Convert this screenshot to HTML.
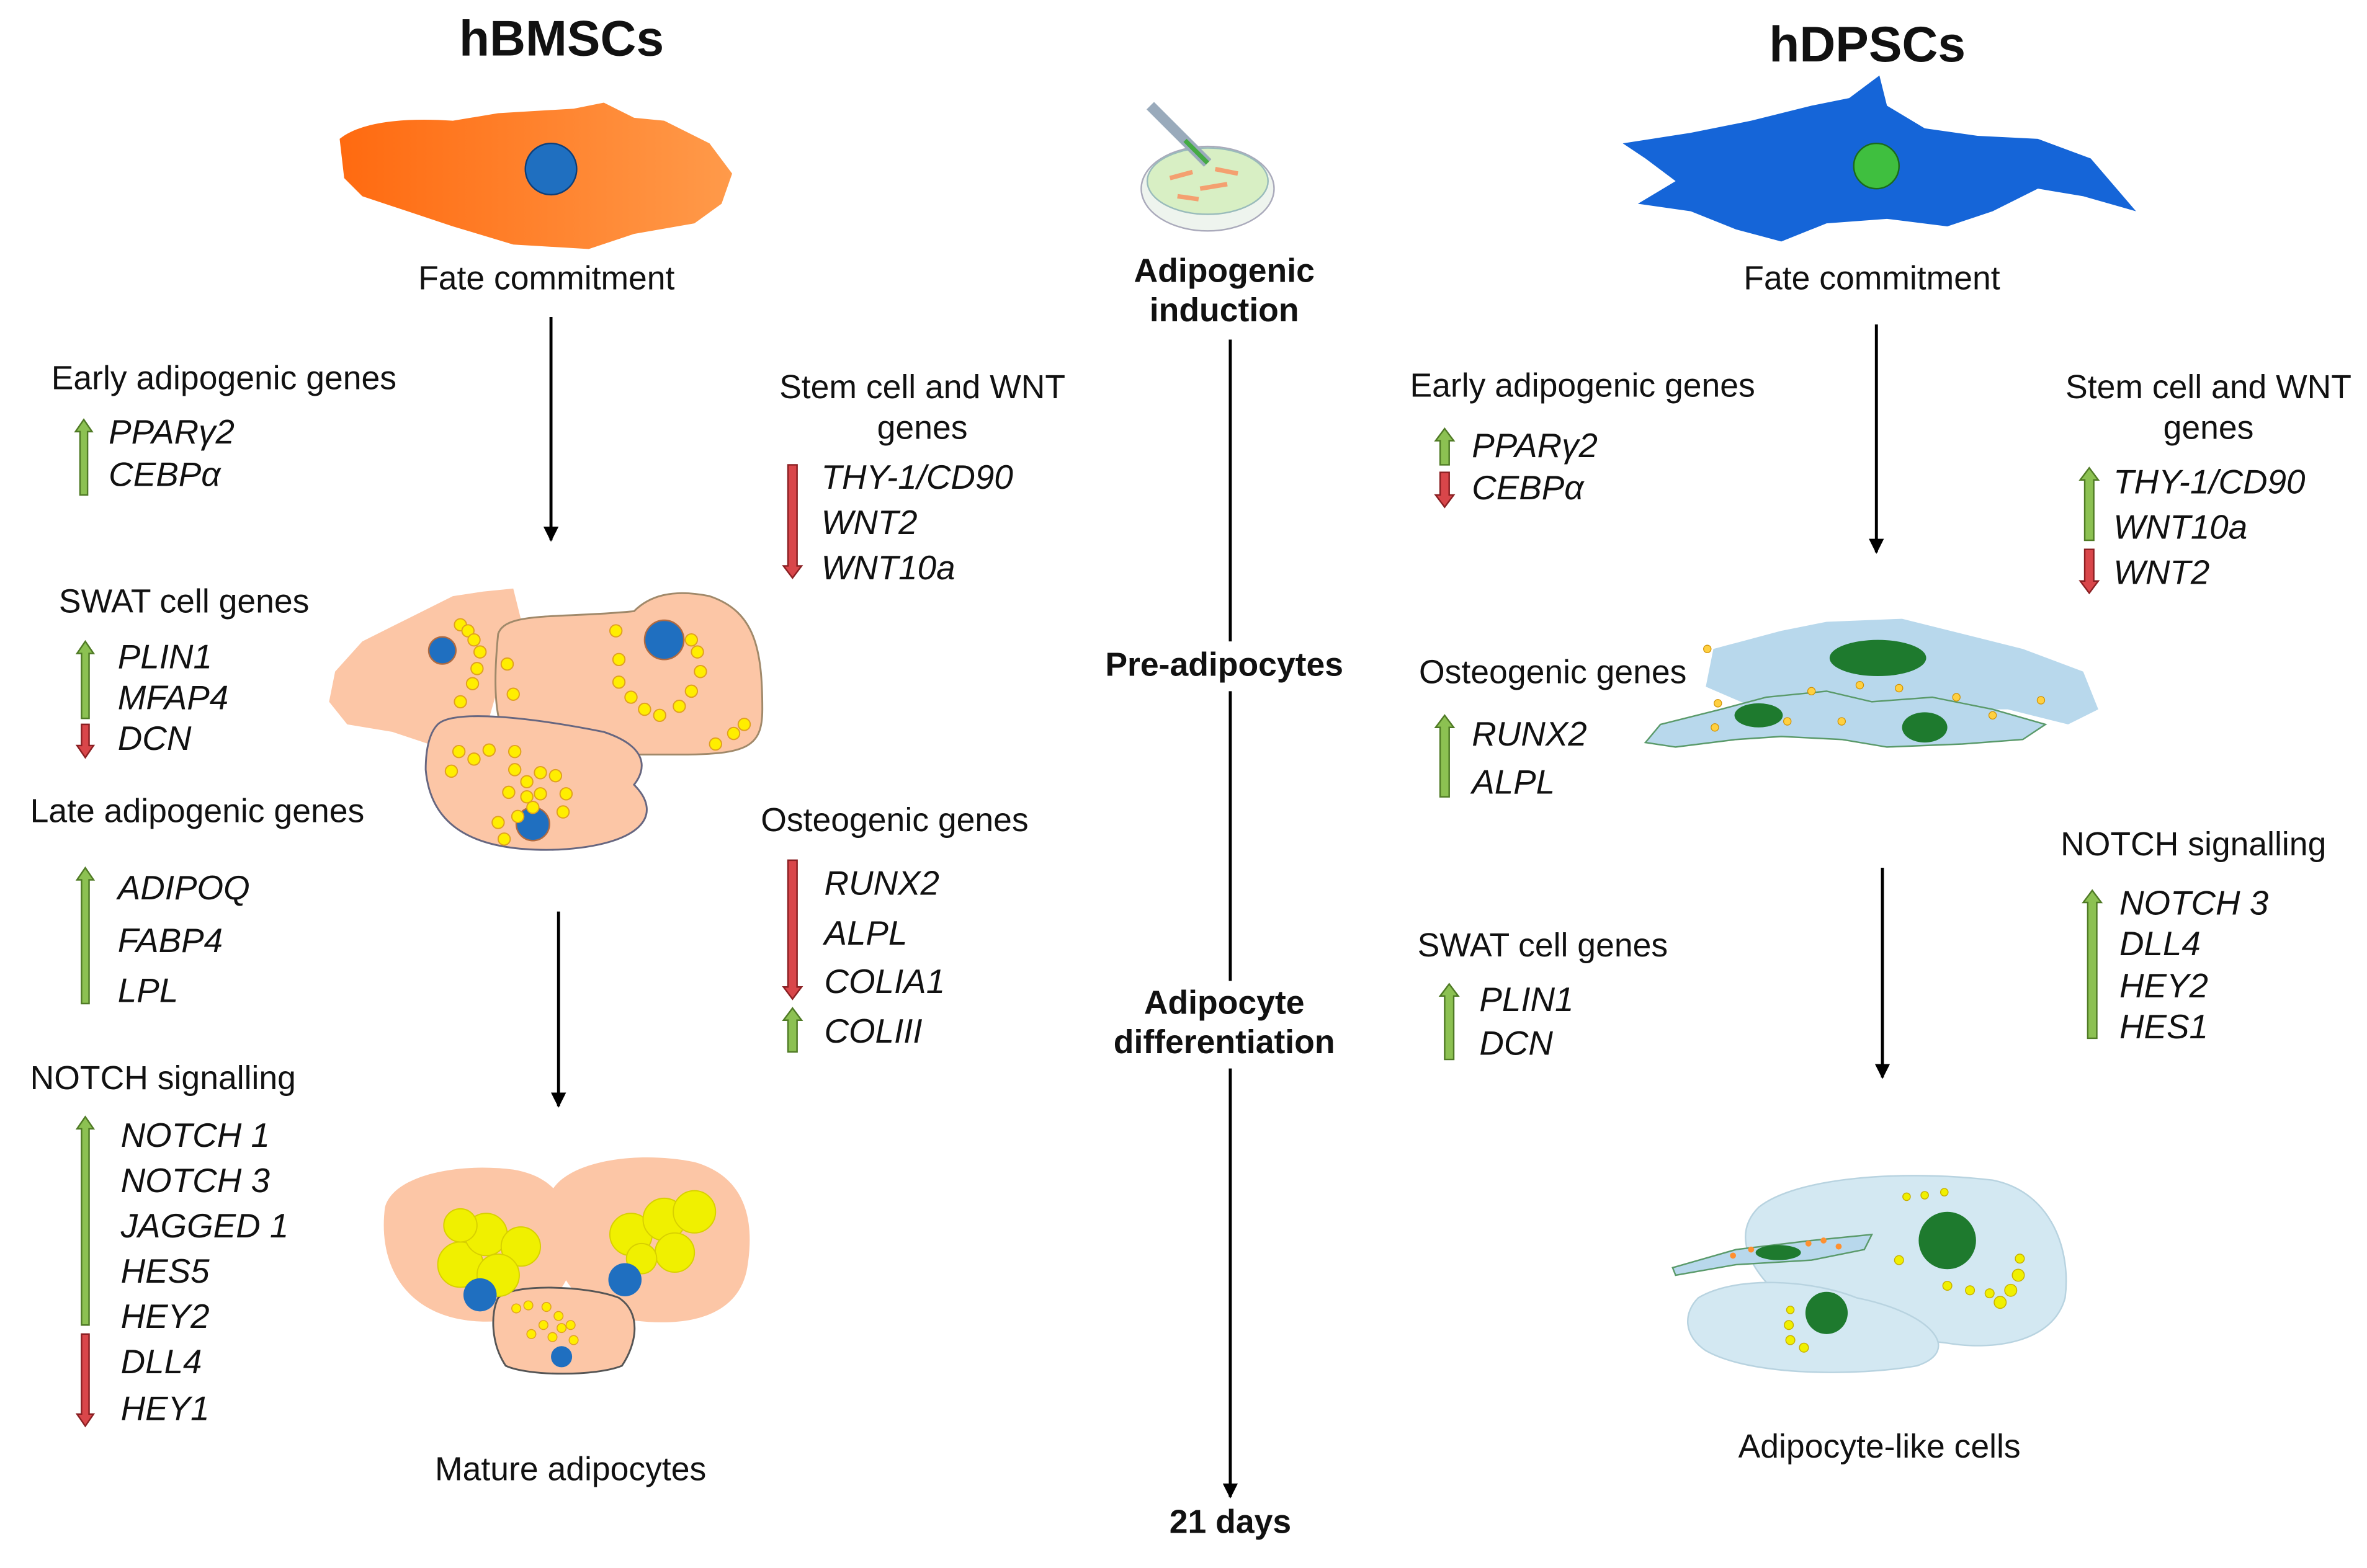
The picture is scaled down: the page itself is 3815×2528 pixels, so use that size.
<!DOCTYPE html>
<html><head><meta charset="utf-8"><style>
html,body{margin:0;padding:0;background:#fff}
svg{display:block}
text{font-family:"Liberation Sans",Arial,sans-serif;fill:#111;dominant-baseline:middle}
.t{font-size:22px}
.g{font-size:22.5px;font-style:italic}
.b{font-weight:bold;font-size:22px;text-anchor:middle}
.h{font-weight:bold;font-size:33px;text-anchor:middle}
.up{fill:#8cc152;stroke:#4f7a25;stroke-width:1}
.dn{fill:#d9464a;stroke:#8a1f22;stroke-width:1}
</style></head><body>
<svg width="3815" height="2528" viewBox="0 0 1568 1039" xmlns="http://www.w3.org/2000/svg">
<defs>
<marker id="ah" markerWidth="10" markerHeight="10" refX="9" refY="5" orient="auto" markerUnits="userSpaceOnUse"><path d="M0,0 L10,5 L0,10 Z" fill="#000"/></marker>
<linearGradient id="og" x1="0" x2="1"><stop offset="0" stop-color="#ff6a10"/><stop offset="1" stop-color="#ff9a4a"/></linearGradient>
</defs>

<text class="h" x="372" y="28">hBMSCs</text>
<text class="h" x="1237" y="32">hDPSCs</text>

<path d="M225,92 C240,80 270,78 300,80 L330,75 L380,72 L400,68 L420,78 L440,80 L470,95 L485,115 L478,135 L460,148 L420,155 L390,165 L340,162 L300,150 L270,140 L240,130 L228,118 Z" fill="url(#og)"/>
<circle cx="365" cy="112" r="17" fill="#1f6fc0" stroke="#0d3f7a"/>
<text class="t" x="362" y="186" text-anchor="middle">Fate commitment</text>
<line x1="365" y1="210" x2="365" y2="358" stroke="#000" stroke-width="2" marker-end="url(#ah)"/>

<path d="M1075,95 L1120,88 L1160,80 L1200,70 L1225,65 L1245,50 L1250,70 L1275,85 L1310,90 L1350,92 L1385,105 L1415,140 L1380,130 L1350,125 L1320,140 L1290,150 L1250,145 L1210,148 L1180,160 L1150,152 L1120,140 L1085,135 L1110,120 L1090,105 Z" fill="#1565d8"/>
<circle cx="1243" cy="110" r="15" fill="#3fbf3f" stroke="#1b6b1b"/>
<text class="t" x="1240" y="186" text-anchor="middle">Fate commitment</text>
<line x1="1243" y1="215" x2="1243" y2="366" stroke="#000" stroke-width="2" marker-end="url(#ah)"/>

<ellipse cx="800" cy="125" rx="44" ry="28" fill="#eef4ee" stroke="#aab"/>
<ellipse cx="800" cy="120" rx="40" ry="22" fill="#d8efc4" stroke="#9bb"/>
<path d="M775,118 l15,-4 M795,125 l18,-3 M780,130 l14,2 M805,112 l15,3" stroke="#f4a070" stroke-width="3"/>
<line x1="762" y1="70" x2="800" y2="108" stroke="#9ab" stroke-width="7"/>
<line x1="785" y1="93" x2="800" y2="108" stroke="#4a4" stroke-width="3"/>

<text class="b" x="811" y="181">Adipogenic</text>
<text class="b" x="811" y="207">induction</text>
<line x1="815" y1="225" x2="815" y2="425" stroke="#000" stroke-width="2"/>
<text class="b" x="811" y="442">Pre-adipocytes</text>
<line x1="815" y1="458" x2="815" y2="650" stroke="#000" stroke-width="2"/>
<text class="b" x="811" y="666">Adipocyte</text>
<text class="b" x="811" y="692">differentiation</text>
<line x1="815" y1="708" x2="815" y2="992" stroke="#000" stroke-width="2" marker-end="url(#ah)"/>
<text class="b" x="815" y="1010">21 days</text>

<text class="t" x="34" y="252">Early adipogenic  genes</text>
<polygon class="up" points="53,328 58,328 58,286 61,286 55.5,278 50,286 53,286"/>
<text class="g" x="72" y="288">PPARγ2</text>
<text class="g" x="72" y="316">CEBPα</text>

<text class="t" x="39" y="400">SWAT cell genes</text>
<polygon class="up" points="54,476 59,476 59,433 62,433 56.5,425 51,433 54,433"/>
<polygon class="dn" points="54,480 59,480 59,494 62,494 56.5,502 51,494 54,494"/>
<text class="g" x="78" y="437">PLIN1</text>
<text class="g" x="78" y="464">MFAP4</text>
<text class="g" x="78" y="491">DCN</text>

<text class="t" x="20" y="539">Late adipogenic genes</text>
<polygon class="up" points="54,665 59,665 59,583 62,583 56.5,575 51,583 54,583"/>
<text class="g" x="78" y="590">ADIPOQ</text>
<text class="g" x="78" y="625">FABP4</text>
<text class="g" x="78" y="658">LPL</text>

<text class="t" x="20" y="716">NOTCH signalling</text>
<polygon class="up" points="54,878 59,878 59,748 62,748 56.5,740 51,748 54,748"/>
<polygon class="dn" points="54,884 59,884 59,937 62,937 56.5,945 51,937 54,937"/>
<text class="g" x="80" y="754">NOTCH 1</text>
<text class="g" x="80" y="784">NOTCH 3</text>
<text class="g" x="80" y="814">JAGGED 1</text>
<text class="g" x="80" y="844">HES5</text>
<text class="g" x="80" y="874">HEY2</text>
<text class="g" x="80" y="904">DLL4</text>
<text class="g" x="80" y="935">HEY1</text>

<text class="t" x="611" y="258" text-anchor="middle">Stem cell and WNT</text>
<text class="t" x="611" y="285" text-anchor="middle">genes</text>
<polygon class="dn" points="522,308 528,308 528,375 531,375 525,383 519,375 522,375"/>
<text class="g" x="544" y="318">THY-1/CD90</text>
<text class="g" x="544" y="348">WNT2</text>
<text class="g" x="544" y="378">WNT10a</text>

<text class="t" x="504" y="545">Osteogenic genes</text>
<polygon class="dn" points="522,570 528,570 528,654 531,654 525,662 519,654 522,654"/>
<polygon class="up" points="522,697 528,697 528,676 531,676 525,668 519,676 522,676"/>
<text class="g" x="546" y="587">RUNX2</text>
<text class="g" x="546" y="620">ALPL</text>
<text class="g" x="546" y="652">COLIA1</text>
<text class="g" x="546" y="685">COLIII</text>

<path d="M218,465 L222,445 L240,425 L270,410 L300,395 L320,392 L340,390 L345,410 L330,455 L320,490 L290,495 L260,485 L230,480 Z" fill="#fcc6a6"/>
<path d="M330,420 C335,405 370,410 420,405 C430,395 445,390 470,395 C500,405 505,430 505,470 C505,495 495,500 450,500 L350,500 C330,495 325,470 330,420 Z" fill="#fcc6a6" stroke="#a0896a" stroke-width="1.2"/>
<path d="M290,480 C300,470 350,475 400,485 C430,495 428,510 420,520 C440,540 425,560 370,563 C310,565 285,545 282,510 C282,495 285,485 290,480 Z" fill="#fcc6a6" stroke="#666680" stroke-width="1.2"/>
<circle cx="293" cy="431" r="9" fill="#1f6fc0" stroke="#b06a40"/>
<circle cx="440" cy="424" r="13" fill="#1f6fc0" stroke="#b06a40"/>
<circle cx="353" cy="546" r="11" fill="#1f6fc0" stroke="#b06a40"/>
<g fill="#ffee00" stroke="#e0a020" stroke-width="0.8">
<circle cx="305" cy="414" r="4"/><circle cx="310" cy="418" r="4"/><circle cx="314" cy="424" r="4"/><circle cx="318" cy="432" r="4"/><circle cx="316" cy="443" r="4"/><circle cx="313" cy="453" r="4"/><circle cx="305" cy="465" r="4"/><circle cx="336" cy="440" r="4"/><circle cx="340" cy="460" r="4"/>
<circle cx="408" cy="418" r="4"/><circle cx="410" cy="437" r="4"/><circle cx="410" cy="452" r="4"/><circle cx="418" cy="462" r="4"/><circle cx="427" cy="470" r="4"/><circle cx="437" cy="474" r="4"/><circle cx="450" cy="468" r="4"/><circle cx="458" cy="458" r="4"/><circle cx="464" cy="445" r="4"/><circle cx="462" cy="432" r="4"/><circle cx="458" cy="424" r="4"/><circle cx="474" cy="493" r="4"/><circle cx="486" cy="486" r="4"/><circle cx="493" cy="480" r="4"/>
<circle cx="304" cy="498" r="4"/><circle cx="314" cy="503" r="4"/><circle cx="324" cy="497" r="4"/><circle cx="299" cy="511" r="4"/><circle cx="341" cy="498" r="4"/><circle cx="341" cy="510" r="4"/><circle cx="349" cy="518" r="4"/><circle cx="358" cy="512" r="4"/><circle cx="368" cy="514" r="4"/><circle cx="337" cy="525" r="4"/><circle cx="349" cy="528" r="4"/><circle cx="358" cy="526" r="4"/><circle cx="353" cy="535" r="4"/><circle cx="343" cy="541" r="4"/><circle cx="373" cy="538" r="4"/><circle cx="330" cy="545" r="4"/><circle cx="375" cy="526" r="4"/><circle cx="334" cy="556" r="4"/>
</g>
<line x1="370" y1="604" x2="370" y2="733" stroke="#000" stroke-width="2" marker-end="url(#ah)"/>

<path d="M255,800 C260,780 300,770 340,775 C370,780 380,800 380,830 C378,860 350,880 310,875 C270,870 250,840 255,800 Z" fill="#fcc6a6"/>
<path d="M365,790 C375,770 420,762 460,770 C495,780 500,810 495,840 C490,870 460,880 420,875 C380,870 360,840 365,790 Z" fill="#fcc6a6"/>
<path d="M330,860 C340,850 390,852 410,860 C425,870 422,890 412,905 C395,912 350,912 335,905 C325,890 325,870 330,860 Z" fill="#fcc6a6" stroke="#555" stroke-width="1.2"/>
<g fill="#f0f000" stroke="#d8d000" stroke-width="0.8">
<circle cx="305" cy="838" r="15"/><circle cx="322" cy="818" r="14"/><circle cx="345" cy="826" r="13"/><circle cx="330" cy="845" r="14"/><circle cx="305" cy="812" r="11"/>
<circle cx="418" cy="818" r="14"/><circle cx="440" cy="808" r="14"/><circle cx="460" cy="803" r="14"/><circle cx="447" cy="830" r="13"/><circle cx="425" cy="834" r="10"/>
</g>
<circle cx="318" cy="858" r="11" fill="#1f6fc0"/>
<circle cx="414" cy="848" r="11" fill="#1f6fc0"/>
<circle cx="372" cy="899" r="7" fill="#1f6fc0"/>
<g fill="#ffee00" stroke="#e0a020" stroke-width="0.6">
<circle cx="342" cy="867" r="3"/><circle cx="350" cy="865" r="3"/><circle cx="362" cy="866" r="3"/><circle cx="370" cy="872" r="3"/><circle cx="378" cy="878" r="3"/><circle cx="360" cy="878" r="3"/><circle cx="366" cy="886" r="3"/><circle cx="380" cy="888" r="3"/><circle cx="352" cy="884" r="3"/><circle cx="372" cy="880" r="3"/>
</g>
<text class="t" x="378" y="975" text-anchor="middle">Mature adipocytes</text>

<text class="t" x="934" y="257">Early adipogenic  genes</text>
<polygon class="up" points="954,308 960,308 960,292 963,292 957,284 951,292 954,292"/>
<polygon class="dn" points="954,313 960,313 960,328 963,328 957,336 951,328 954,328"/>
<text class="g" x="975" y="297">PPARγ2</text>
<text class="g" x="975" y="325">CEBPα</text>

<text class="t" x="1463" y="258" text-anchor="middle">Stem cell and WNT</text>
<text class="t" x="1463" y="285" text-anchor="middle">genes</text>
<polygon class="up" points="1381,358 1387,358 1387,318 1390,318 1384,310 1378,318 1381,318"/>
<polygon class="dn" points="1381,364 1387,364 1387,385 1390,385 1384,393 1378,385 1381,385"/>
<text class="g" x="1400" y="321">THY-1/CD90</text>
<text class="g" x="1400" y="351">WNT10a</text>
<text class="g" x="1400" y="381">WNT2</text>

<text class="t" x="940" y="447">Osteogenic genes</text>
<polygon class="up" points="954,528 960,528 960,482 963,482 957,474 951,482 954,482"/>
<text class="g" x="975" y="488">RUNX2</text>
<text class="g" x="975" y="520">ALPL</text>

<text class="t" x="1365" y="561">NOTCH signalling</text>
<polygon class="up" points="1383,688 1389,688 1389,598 1392,598 1386,590 1380,598 1383,598"/>
<text class="g" x="1404" y="600">NOTCH 3</text>
<text class="g" x="1404" y="627">DLL4</text>
<text class="g" x="1404" y="655">HEY2</text>
<text class="g" x="1404" y="682">HES1</text>

<text class="t" x="939" y="628">SWAT cell genes</text>
<polygon class="up" points="957,702 963,702 963,660 966,660 960,652 954,660 957,660"/>
<text class="g" x="980" y="664">PLIN1</text>
<text class="g" x="980" y="693">DCN</text>

<path d="M1135,430 L1180,418 L1210,412 L1260,410 L1300,420 L1340,430 L1380,445 L1390,470 L1370,480 L1330,470 L1290,470 L1240,480 L1200,470 L1160,468 L1130,455 Z" fill="#b8d8ec"/>
<path d="M1100,480 L1140,470 L1170,462 L1210,458 L1240,465 L1280,462 L1320,470 L1355,480 L1340,490 L1300,493 L1250,495 L1220,490 L1180,488 L1150,490 L1110,495 L1090,492 Z" fill="#b8d8ec" stroke="#5a9a6a" stroke-width="1"/>
<ellipse cx="1244" cy="436" rx="32" ry="12" fill="#1e7a2e"/>
<ellipse cx="1165" cy="474" rx="16" ry="8" fill="#1e7a2e"/>
<ellipse cx="1275" cy="482" rx="15" ry="10" fill="#1e7a2e"/>
<g fill="#ffd040" stroke="#d09000" stroke-width="0.5">
<circle cx="1138" cy="466" r="2.5"/><circle cx="1200" cy="458" r="2.5"/><circle cx="1232" cy="454" r="2.5"/><circle cx="1258" cy="456" r="2.5"/><circle cx="1296" cy="462" r="2.5"/><circle cx="1352" cy="464" r="2.5"/><circle cx="1184" cy="478" r="2.5"/><circle cx="1136" cy="482" r="2.5"/><circle cx="1220" cy="478" r="2.5"/><circle cx="1131" cy="430" r="2.5"/><circle cx="1320" cy="474" r="2.5"/>
</g>
<line x1="1247" y1="575" x2="1247" y2="714" stroke="#000" stroke-width="2" marker-end="url(#ah)"/>

<path d="M1165,800 C1190,780 1260,775 1320,782 C1360,790 1372,830 1368,860 C1360,890 1320,895 1290,890 C1250,885 1200,880 1175,855 C1155,835 1150,815 1165,800 Z" fill="#d3e8f2" stroke="#b8d3e0"/>
<path d="M1125,860 C1150,845 1200,848 1230,860 C1280,870 1300,895 1270,905 C1230,912 1160,912 1130,895 C1115,885 1115,870 1125,860 Z" fill="#d3e8f2" stroke="#b8d3e0"/>
<path d="M1108,840 L1150,828 L1200,822 L1240,818 L1235,828 L1200,835 L1150,838 L1110,845 Z" fill="#b8d8ec" stroke="#5a9a6a" stroke-width="1"/>
<ellipse cx="1178" cy="830" rx="15" ry="5" fill="#1e7a2e"/>
<circle cx="1290" cy="822" r="19" fill="#1e7a2e"/>
<circle cx="1210" cy="870" r="14" fill="#1e7a2e"/>
<g fill="#f0f000" stroke="#c8b000" stroke-width="0.6">
<circle cx="1263" cy="793" r="2.5"/><circle cx="1275" cy="792" r="2.5"/><circle cx="1288" cy="790" r="2.5"/><circle cx="1258" cy="835" r="3"/><circle cx="1290" cy="852" r="3"/><circle cx="1305" cy="855" r="3"/><circle cx="1318" cy="857" r="3"/><circle cx="1325" cy="863" r="4"/><circle cx="1332" cy="855" r="4"/><circle cx="1337" cy="845" r="4"/><circle cx="1338" cy="834" r="3"/>
<circle cx="1185" cy="878" r="3"/><circle cx="1186" cy="888" r="3"/><circle cx="1195" cy="893" r="3"/><circle cx="1186" cy="868" r="2.5"/>
</g>
<g fill="#ff9030"><circle cx="1148" cy="832" r="2"/><circle cx="1160" cy="828" r="2"/><circle cx="1198" cy="824" r="2"/><circle cx="1208" cy="822" r="2"/><circle cx="1218" cy="826" r="2"/></g>
<text class="t" x="1245" y="960" text-anchor="middle">Adipocyte-like cells</text>
</svg>
</body></html>
